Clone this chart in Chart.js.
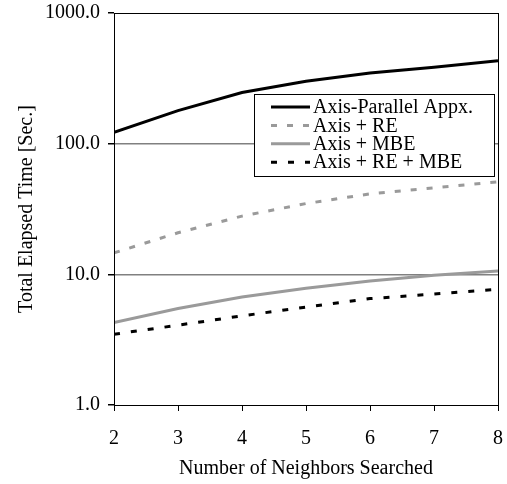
<!DOCTYPE html>
<html>
<head>
<meta charset="utf-8">
<script src="https://cdn.jsdelivr.net/npm/chart.js@4/dist/chart.umd.min.js"></script>
<style>
html,body{margin:0;padding:0;background:#fff;}
#wrap{position:relative;width:507px;height:484px;}
</style>
</head>
<body>
<div id="wrap"><canvas id="c" width="507" height="484"></canvas></div>
<script>
const neighbors = [2, 3, 4, 5, 6, 7, 8];
const axisParallel = [122, 179, 246, 300, 347, 385, 432];
const axisRE = [14.6, 20.8, 27.9, 34.8, 41.3, 45.9, 51];
const axisMBE = [4.28, 5.47, 6.71, 7.82, 8.89, 9.82, 10.6];
const axisREMBE = [3.48, 4.08, 4.81, 5.62, 6.52, 7.07, 7.68];
const yTicks = [1, 10, 100, 1000];
const seriesNames = ['Axis-Parallel Appx.', 'Axis + RE', 'Axis + MBE', 'Axis + RE + MBE'];

const FONT = "'Liberation Serif', 'Times New Roman', serif";
const GRAY = '#9a9a9a';

function pts(arr){ return neighbors.map((x,i)=>({x:x, y:arr[i]})); }

const frameAndLegend = {
  id:'frameAndLegend',
  afterDraw(chart){
    const ctx = chart.ctx, a = chart.chartArea;
    ctx.save();
    ctx.strokeStyle = '#000';
    ctx.lineWidth = 1;
    ctx.strokeRect(Math.round(a.left)+0.5, Math.round(a.top)+0.5, Math.round(a.right-a.left), Math.round(a.bottom-a.top));
    // legend box
    const bx = 254, by = 94, bw = 240, bh = 82;
    ctx.fillStyle = '#fff';
    ctx.fillRect(bx, by, bw, bh);
    ctx.strokeStyle = '#000';
    ctx.strokeRect(bx+0.5, by+0.5, bw, bh);
    ctx.font = '20px ' + FONT;
    ctx.textBaseline = 'middle';
    ctx.textAlign = 'left';
    chart.data.datasets.forEach((ds, i) => {
      const cy = 107 + i*18.4;
      ctx.beginPath();
      ctx.strokeStyle = ds.borderColor;
      ctx.lineWidth = ds.borderWidth;
      ctx.setLineDash(ds.borderDash || []);
      ctx.moveTo(271, cy);
      ctx.lineTo(310, cy);
      ctx.stroke();
      ctx.setLineDash([]);
      ctx.fillStyle = '#000';
      ctx.fillText(ds.label, 313, cy + 1);
    });
    ctx.restore();
  }
};

new Chart(document.getElementById('c'), {
  type: 'line',
  data: {
    datasets: [
      {label: seriesNames[0], data: pts(axisParallel), borderColor:'#000', borderWidth:3, pointRadius:0, fill:false},
      {label: seriesNames[1], data: pts(axisRE), borderColor:GRAY, borderWidth:3, borderDash:[6,10], pointRadius:0, fill:false},
      {label: seriesNames[2], data: pts(axisMBE), borderColor:GRAY, borderWidth:3, pointRadius:0, fill:false},
      {label: seriesNames[3], data: pts(axisREMBE), borderColor:'#000', borderWidth:3, borderDash:[6,11], pointRadius:0, fill:false}
    ]
  },
  options: {
    responsive: false,
    animation: false,
    devicePixelRatio: 1,
    layout: {padding: {top: 13, right: 9, left: 0, bottom: 0}},
    plugins: {legend: {display: false}, tooltip: {enabled: false}},
    scales: {
      x: {
        type: 'linear', min: 2, max: 8,
        afterFit(s){ s.height = 79; s.paddingLeft = 0; s.paddingRight = 0; },
        ticks: {stepSize: 1, color:'#000', font:{family:FONT, size:20}, padding: 16},
        grid: {drawOnChartArea:false, drawTicks:true, tickLength:6, tickColor:'#000'},
        border: {color:'#000', width:1},
        title: {display:true, text:'Number of Neighbors Searched', color:'#000', font:{family:FONT, size:20}, padding:{top:2, bottom:3}}
      },
      y: {
        type: 'logarithmic', min: 1, max: 1000,
        afterFit(s){ s.width = 114; s.paddingTop = 0; s.paddingBottom = 0; },
        afterBuildTicks(s){ s.ticks = yTicks.map(v=>({value:v})); },
        ticks: {color:'#000', font:{family:FONT, size:20}, padding: 8, callback: v => Number(v).toFixed(1)},
        grid: {
          color: c => (c.tick && (c.tick.value===10 || c.tick.value===100)) ? '#808080' : 'rgba(0,0,0,0)',
          lineWidth: 1.5,
          tickColor: '#000', tickLength: 6, drawTicks: true
        },
        border: {color:'#000', width:1},
        title: {display:true, text:'Total Elapsed Time [Sec.]', color:'#000', font:{family:FONT, size:20}, padding:{top:15, bottom:4}}
      }
    }
  },
  plugins: [frameAndLegend]
});
</script>
</body>
</html>
